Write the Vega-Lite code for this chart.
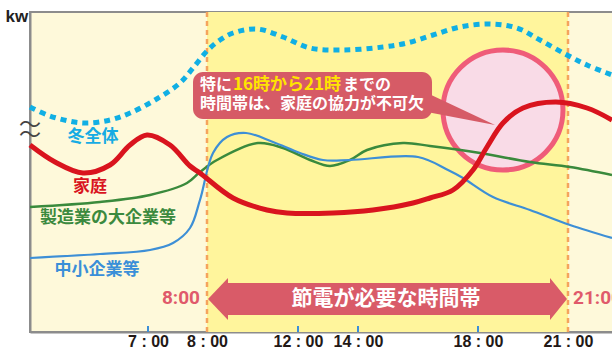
{
  "$schema": "https://vega.github.io/schema/vega-lite/v6.json",
  "width": 585,
  "height": 320,
  "autosize": {"type": "none"},
  "padding": {"left": 30, "top": 12, "right": 0, "bottom": 17},
  "background": "white",
  "config": {
    "view": {"fill": "#fef9da", "stroke": "#8c8c8c", "strokeWidth": 2},
    "font": "Noto Sans CJK JP"
  },
  "datasets": {
    "band": [{"h": 8, "h2": 21, "v": 0, "v2": 320}],
    "dashes": [{"h": 8, "v": 0, "v2": 320}, {"h": 21, "v": 0, "v2": 320}],
    "ticks": [{"h": 7, "v": 0, "v2": 6}, {"h": 12, "v": 0, "v2": 6}, {"h": 14, "v": 0, "v2": 6}, {"h": 18, "v": 0, "v2": 6}],
    "circle": [{"h": 18.833, "v": 222}],
    "lines": [
      {"s": "winter", "h": 5.0, "v": 225}, {"s": "winter", "h": 5.339, "v": 216}, {"s": "winter", "h": 5.898, "v": 209},
      {"s": "winter", "h": 6.356, "v": 212}, {"s": "winter", "h": 6.695, "v": 219}, {"s": "winter", "h": 7.119, "v": 232},
      {"s": "winter", "h": 7.542, "v": 249}, {"s": "winter", "h": 7.763, "v": 264}, {"s": "winter", "h": 8.0, "v": 281},
      {"s": "winter", "h": 8.571, "v": 292}, {"s": "winter", "h": 9.143, "v": 299}, {"s": "winter", "h": 10.198, "v": 303},
      {"s": "winter", "h": 11.341, "v": 295}, {"s": "winter", "h": 12.4, "v": 284}, {"s": "winter", "h": 13.5, "v": 282},
      {"s": "winter", "h": 14.833, "v": 285}, {"s": "winter", "h": 15.633, "v": 289},
      {"s": "winter", "h": 16.5, "v": 297}, {"s": "winter", "h": 17.4, "v": 305}, {"s": "winter", "h": 18.4, "v": 308},
      {"s": "winter", "h": 19.3, "v": 304}, {"s": "winter", "h": 20.067, "v": 292}, {"s": "winter", "h": 20.967, "v": 277},
      {"s": "winter", "h": 21.633, "v": 267}, {"s": "winter", "h": 22.467, "v": 257},

      {"s": "home", "h": 5.0, "v": 187}, {"s": "home", "h": 5.424, "v": 170}, {"s": "home", "h": 5.898, "v": 159},
      {"s": "home", "h": 6.356, "v": 167}, {"s": "home", "h": 6.695, "v": 187}, {"s": "home", "h": 6.983, "v": 197},
      {"s": "home", "h": 7.373, "v": 187}, {"s": "home", "h": 7.712, "v": 166}, {"s": "home", "h": 7.881, "v": 159},
      {"s": "home", "h": 9.143, "v": 134}, {"s": "home", "h": 10.637, "v": 122}, {"s": "home", "h": 11.516, "v": 119},
      {"s": "home", "h": 13.167, "v": 119}, {"s": "home", "h": 14.5, "v": 122}, {"s": "home", "h": 15.833, "v": 129},
      {"s": "home", "h": 16.4, "v": 134}, {"s": "home", "h": 17.167, "v": 142}, {"s": "home", "h": 17.833, "v": 162},
      {"s": "home", "h": 18.3, "v": 185}, {"s": "home", "h": 18.833, "v": 209}, {"s": "home", "h": 19.5, "v": 224},
      {"s": "home", "h": 20.6, "v": 230}, {"s": "home", "h": 21.633, "v": 224},
      {"s": "home", "h": 22.467, "v": 212},

      {"s": "large", "h": 5.0, "v": 125}, {"s": "large", "h": 6.186, "v": 130}, {"s": "large", "h": 7.034, "v": 137},
      {"s": "large", "h": 7.661, "v": 149}, {"s": "large", "h": 7.881, "v": 160}, {"s": "large", "h": 8.44, "v": 172},
      {"s": "large", "h": 10.242, "v": 189}, {"s": "large", "h": 11.341, "v": 184},
      {"s": "large", "h": 12.4, "v": 172}, {"s": "large", "h": 13.067, "v": 166}, {"s": "large", "h": 13.733, "v": 172},
      {"s": "large", "h": 14.3, "v": 182}, {"s": "large", "h": 15.5, "v": 189},
      {"s": "large", "h": 16.4, "v": 186}, {"s": "large", "h": 18.067, "v": 179}, {"s": "large", "h": 19.733, "v": 170},
      {"s": "large", "h": 21.067, "v": 165}, {"s": "large", "h": 22.467, "v": 157},

      {"s": "small", "h": 5.0, "v": 74}, {"s": "small", "h": 6.186, "v": 78}, {"s": "small", "h": 7.034, "v": 82},
      {"s": "small", "h": 7.424, "v": 89}, {"s": "small", "h": 7.712, "v": 104}, {"s": "small", "h": 7.881, "v": 132},
      {"s": "small", "h": 8.264, "v": 179}, {"s": "small", "h": 8.879, "v": 195}, {"s": "small", "h": 9.714, "v": 199},
      {"s": "small", "h": 10.901, "v": 190}, {"s": "small", "h": 12.067, "v": 179},
      {"s": "small", "h": 12.833, "v": 172}, {"s": "small", "h": 13.733, "v": 172}, {"s": "small", "h": 16.0, "v": 175},
      {"s": "small", "h": 17.0, "v": 162}, {"s": "small", "h": 17.5, "v": 154}, {"s": "small", "h": 18.5, "v": 135},
      {"s": "small", "h": 19.733, "v": 122}, {"s": "small", "h": 21.067, "v": 107}, {"s": "small", "h": 22.467, "v": 94}
    ],
    "pointer": [{"h": 16.3, "v": 239, "v2": 220}, {"h": 18.567, "v": 207, "v2": 207}],
    "box": [{"h": 7.763, "h2": 16.467, "v": 260, "v2": 213}],
    "headLeft": [{"h": 8.044, "v": 33, "v2": 33}, {"h": 8.923, "v": 54, "v2": 12}],
    "headRight": [{"h": 20.4, "v": 54, "v2": 12}, {"h": 20.967, "v": 33, "v2": 33}],
    "arrowBody": [{"h": 8.9, "h2": 20.42, "v": 49, "v2": 17}]
  },
  "encoding": {
    "x": {
      "field": "h",
      "type": "quantitative",
      "scale": {"type": "linear", "domain": [5, 8, 12, 22.4667], "range": [0, 177, 268, 582], "nice": false, "zero": false},
      "axis": {
        "values": [7, 8, 12, 14, 18, 21],
        "labelExpr": "floor(datum.value) + ' : 00'",
        "labelFont": "Liberation Sans",
        "labelFontSize": 16,
        "labelFontWeight": "bold",
        "labelColor": "#231815",
        "labelPadding": 1,
        "labelFlush": false,
        "ticks": false,
        "grid": false,
        "domainColor": "#8c8c8c",
        "domainWidth": 2,
        "title": null
      }
    },
    "y": {
      "field": "v",
      "type": "quantitative",
      "scale": {"domain": [0, 320], "nice": false, "zero": false},
      "axis": {
        "labels": false,
        "ticks": false,
        "grid": false,
        "domainColor": "#8c8c8c",
        "domainWidth": 2,
        "title": "kw",
        "titleAngle": 0,
        "titleAlign": "left",
        "titleBaseline": "middle",
        "titleX": -25,
        "titleY": 4,
        "titleFont": "Liberation Sans",
        "titleFontSize": 17,
        "titleFontWeight": "bold",
        "titleColor": "#222222"
      }
    }
  },
  "layer": [
    {"data": {"name": "band"}, "mark": {"type": "rect", "color": "#fff59c"},
     "encoding": {"x2": {"field": "h2"}, "y2": {"field": "v2"}}},
    {"data": {"name": "dashes"}, "mark": {"type": "rule", "color": "#f5a45d", "strokeWidth": 2.5, "strokeDash": [5, 4]},
     "encoding": {"y2": {"field": "v2"}}},
    {"data": {"name": "circle"}, "mark": {"type": "point", "shape": "circle", "size": 14400, "filled": true, "fill": "#f9dbe7", "fillOpacity": 1, "stroke": "#ef5c79", "strokeWidth": 5, "opacity": 1}},
    {"data": {"name": "lines"}, "transform": [{"filter": "datum.s == 'large'"}],
     "mark": {"type": "line", "interpolate": "catmull-rom", "color": "#3a8a3c", "strokeWidth": 2.5}},
    {"data": {"name": "lines"}, "transform": [{"filter": "datum.s == 'small'"}],
     "mark": {"type": "line", "interpolate": "catmull-rom", "color": "#3d8fd6", "strokeWidth": 2.2}},
    {"data": {"name": "lines"}, "transform": [{"filter": "datum.s == 'home'"}],
     "mark": {"type": "line", "interpolate": "catmull-rom", "color": "#d9141e", "strokeWidth": 5}},
    {"data": {"name": "lines"}, "transform": [{"filter": "datum.s == 'winter'"}],
     "mark": {"type": "line", "interpolate": "catmull-rom", "color": "#10afe4", "strokeWidth": 5, "strokeDash": [6, 5]}},
    {"data": {"name": "ticks"}, "mark": {"type": "rule", "color": "#3d8fd6", "strokeWidth": 2},
     "encoding": {"y2": {"field": "v2"}}},
    {"data": {"name": "pointer"}, "mark": {"type": "area", "color": "#d65b66", "interpolate": "linear", "opacity": 1},
     "encoding": {"y2": {"field": "v2"}}},
    {"data": {"name": "box"}, "mark": {"type": "rect", "color": "#d65b66", "cornerRadius": 10, "opacity": 1},
     "encoding": {"x2": {"field": "h2"}, "y2": {"field": "v2"}}},
    {"data": {"name": "arrowBody"}, "mark": {"type": "rect", "color": "#d95b68", "opacity": 1},
     "encoding": {"x2": {"field": "h2"}, "y2": {"field": "v2"}}},
    {"data": {"name": "headLeft"}, "mark": {"type": "area", "color": "#d95b68", "interpolate": "linear", "opacity": 1},
     "encoding": {"y2": {"field": "v2"}}},
    {"data": {"name": "headRight"}, "mark": {"type": "area", "color": "#d95b68", "interpolate": "linear", "opacity": 1},
     "encoding": {"y2": {"field": "v2"}}},
    {"data": {"values": [{"t": "節電が必要な時間帯", "h": 14.933, "v": 33}]},
     "mark": {"type": "text", "color": "white", "fontSize": 21, "fontWeight": "bold", "align": "center", "baseline": "middle"},
     "encoding": {"text": {"field": "t"}}},
    {"data": {"values": [{"t": "特に", "h": 7.881, "v": 247}, {"t": "までの", "h": 13.5, "v": 247}, {"t": "時間帯は、家庭の協力が不可欠", "h": 7.881, "v": 228}]},
     "mark": {"type": "text", "color": "white", "fontSize": 16, "fontWeight": "bold", "align": "left", "baseline": "middle"},
     "encoding": {"text": {"field": "t"}}},
    {"data": {"values": [{"t": "16時から21時", "h": 9.143, "v": 247}]},
     "mark": {"type": "text", "color": "#ffe500", "fontSize": 17, "fontWeight": "bold", "align": "left", "baseline": "middle"},
     "encoding": {"text": {"field": "t"}}},
    {"data": {"values": [{"t": "冬全体", "h": 6.068, "v": 195}]},
     "mark": {"type": "text", "color": "#17ace3", "fontSize": 17, "fontWeight": "bold", "align": "center", "baseline": "middle"},
     "encoding": {"text": {"field": "t"}}},
    {"data": {"values": [{"t": "家庭", "h": 6.017, "v": 145}]},
     "mark": {"type": "text", "color": "#d9141e", "fontSize": 17, "fontWeight": "bold", "align": "center", "baseline": "middle"},
     "encoding": {"text": {"field": "t"}}},
    {"data": {"values": [{"t": "製造業の大企業等", "h": 6.322, "v": 114}]},
     "mark": {"type": "text", "color": "#3b8a3e", "fontSize": 17, "fontWeight": "bold", "align": "center", "baseline": "middle"},
     "encoding": {"text": {"field": "t"}}},
    {"data": {"values": [{"t": "中小企業等", "h": 6.136, "v": 62}]},
     "mark": {"type": "text", "color": "#3a8fd8", "fontSize": 17, "fontWeight": "bold", "align": "center", "baseline": "middle"},
     "encoding": {"text": {"field": "t"}}},
    {"data": {"values": [{"t": "8:00", "h": 7.881, "v": 34}]},
     "mark": {"type": "text", "color": "#e05a6b", "font": "Roboto", "fontSize": 19, "fontWeight": "bold", "align": "right", "baseline": "middle"},
     "encoding": {"text": {"field": "t"}}},
    {"data": {"values": [{"t": "21:00", "h": 21.167, "v": 34}]},
     "mark": {"type": "text", "color": "#e05a6b", "font": "Roboto", "fontSize": 19, "fontWeight": "bold", "align": "left", "baseline": "middle"},
     "encoding": {"text": {"field": "t"}}},
    {"data": {"values": [{"t": "〜", "h": 5.0, "v": 207}, {"t": "〜", "h": 5.0, "v": 197}]},
     "mark": {"type": "text", "color": "#444444", "font": "Noto Sans CJK JP", "fontSize": 22, "fontWeight": "normal", "align": "center", "baseline": "middle"},
     "encoding": {"text": {"field": "t"}}}
  ]
}
